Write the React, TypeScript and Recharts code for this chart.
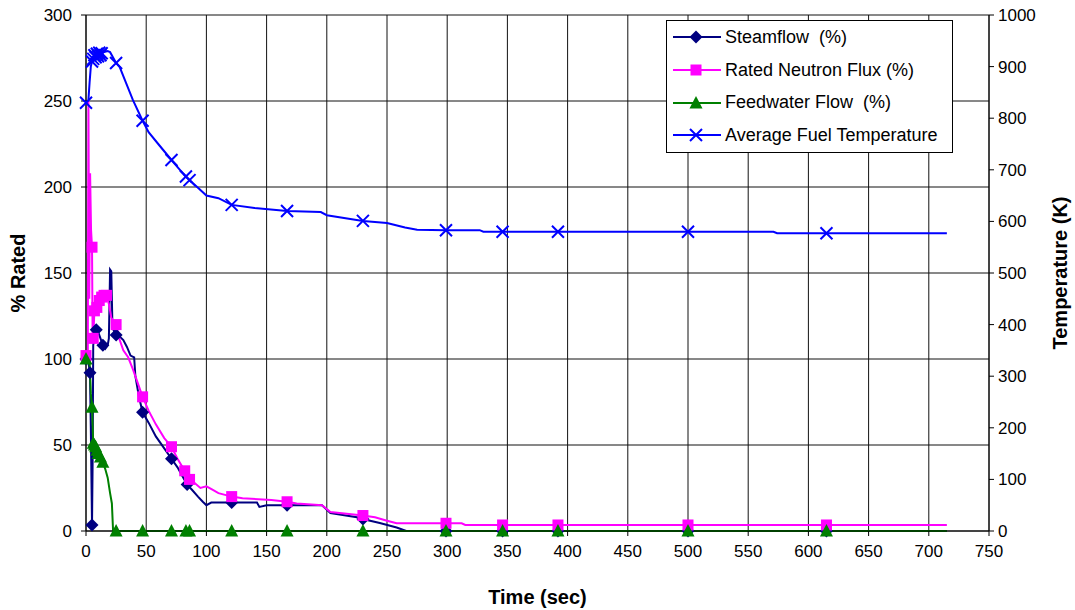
import React from 'react';
import { ComposedChart, Line, XAxis, YAxis, CartesianGrid, Legend } from 'recharts';

const COLORS = {
  steam: '#000080',
  flux: '#FF00FF',
  feed: '#008000',
  temp: '#0000FF',
};

// rows are [time (sec), value, marker?]
const steamflowRows = [
  [0, 100, 1], [2, 98], [3.3, 92, 1], [4, 60], [5, 3.5, 1], [5.5, 40], [6, 108], [7, 113],
  [8.5, 117, 1], [10, 116], [12, 112], [14, 108, 1], [16, 106], [18, 108], [19, 112],
  [20, 152], [21, 151], [22, 118], [25, 114, 1], [28, 113], [31, 111], [34, 107], [37, 102],
  [40, 101], [41, 90], [44, 78], [47, 69, 1], [52, 63], [58, 55], [65, 48], [71, 42, 1],
  [76, 37], [80, 32], [84, 27, 1], [88, 24], [93, 20], [97, 17], [100, 15], [104, 16.5],
  [121, 16.5, 1], [142, 16.5], [144, 14], [150, 15], [167, 15, 1], [196, 15], [203, 10.5],
  [225, 8], [230, 7, 1], [236, 6], [244, 4.6], [258, 2], [266, 0], [299, 0, 1], [346, 0, 1],
  [392, 0, 1], [500, 0, 1], [615, 0, 1], [715, 0],
];

const neutronFluxRows = [
  [0, 102, 1], [1.5, 104], [2, 250], [2.7, 135], [3.4, 208], [4.2, 175], [5, 165, 1],
  [5.5, 112], [6, 112, 1], [7, 128, 1], [8, 135], [9, 130, 1], [11, 134, 1], [13, 136, 1],
  [15, 137, 1], [17, 137, 1], [19, 132], [21, 124], [25, 120, 1], [28, 111], [31, 105],
  [35, 101], [39, 94], [42, 88], [47, 78, 1], [52, 70], [58, 62], [65, 54], [71, 49, 1],
  [76, 42], [82, 35, 1], [86, 30, 1], [90, 28], [95, 25], [100, 26], [105, 24], [110, 22],
  [121, 20, 1], [130, 19], [154, 18], [167, 17, 1], [175, 16], [196, 15], [203, 11],
  [230, 9, 1], [240, 8], [250, 6], [258, 4.5], [299, 4.5, 1], [312, 4.5], [315, 3.5],
  [346, 3.5, 1], [392, 3.5, 1], [500, 3.5, 1], [615, 3.5, 1], [715, 3.5],
];

const feedwaterRows = [
  [0, 100, 1], [2, 100], [3, 98], [4, 80], [5, 72, 1], [6, 51, 1], [7, 50, 1], [8, 49, 1],
  [9, 47, 1], [10, 45, 1], [12, 43, 1], [14, 40, 1], [16, 36], [18, 31], [20, 22],
  [21.5, 16], [22.5, 0], [25, 0, 1], [47, 0, 1], [71, 0, 1], [83, 0, 1], [86, 0, 1],
  [121, 0, 1], [167, 0, 1], [230, 0, 1], [299, 0, 1], [346, 0, 1], [392, 0, 1],
  [500, 0, 1], [615, 0, 1], [715, 0],
];

const fuelTempRows = [
  [0, 830, 1], [2, 835], [3, 870], [4, 900], [5, 910, 1], [6, 915, 1], [7, 922, 1],
  [8, 918, 1], [9, 925, 1], [10, 920, 1], [11, 927, 1], [12, 922, 1], [13, 926, 1],
  [15, 928], [18, 930], [20, 928], [25, 907, 1], [28, 899], [33, 870], [39, 835],
  [47, 795, 1], [52, 773], [60, 750], [71, 719, 1], [78, 700], [83, 687, 1], [86, 680, 1],
  [93, 665], [100, 650], [110, 645], [121, 632, 1], [140, 626], [167, 620, 1], [195, 618],
  [200, 612], [230, 601, 1], [250, 597], [265, 588], [275, 584], [299, 583, 1], [327, 583],
  [330, 580], [346, 580, 1], [392, 580, 1], [500, 580, 1], [571, 580], [574, 577],
  [615, 577, 1], [715, 577],
];

const timeTicks = [0, 50, 100, 150, 200, 250, 300, 350, 400, 450, 500, 550, 600, 650, 700, 750];
const ratedTicks = [0, 50, 100, 150, 200, 250, 300];
const tempTicks = [0, 100, 200, 300, 400, 500, 600, 700, 800, 900, 1000];

const toPoints = (rows: number[][]) => rows.map(([t, v, m]) => ({ t, v, m: !!m }));

const steamflow = toPoints(steamflowRows);
const neutronFlux = toPoints(neutronFluxRows);
const feedwater = toPoints(feedwaterRows);
const fuelTemp = toPoints(fuelTempRows);

type Kind = 'diamond' | 'square' | 'triangle' | 'cross';

const Marker = ({ kind, cx, cy, color }: { kind: Kind; cx: number; cy: number; color: string }) => {
  if (kind === 'diamond') {
    return <polygon points={`${cx},${cy - 6.5} ${cx + 6.5},${cy} ${cx},${cy + 6.5} ${cx - 6.5},${cy}`} fill={color} />;
  }
  if (kind === 'square') {
    return <rect x={cx - 5.5} y={cy - 5.5} width={11} height={11} fill={color} />;
  }
  if (kind === 'triangle') {
    return <polygon points={`${cx},${cy - 7} ${cx + 6.5},${cy + 5.5} ${cx - 6.5},${cy + 5.5}`} fill={color} />;
  }
  return (
    <path
      d={`M${cx - 6},${cy - 6}L${cx + 6},${cy + 6}M${cx - 6},${cy + 6}L${cx + 6},${cy - 6}`}
      stroke={color}
      strokeWidth={2}
      fill="none"
    />
  );
};

const markerDot = (kind: Kind, color: string) => (props: any) => {
  const { cx, cy, payload, index } = props;
  if (!payload || !payload.m || cx == null || cy == null) return <g key={`n-${index}`} />;
  return (
    <g key={`m-${index}`}>
      <Marker kind={kind} cx={cx} cy={cy} color={color} />
    </g>
  );
};

const legendItems: { label: string; kind: Kind; color: string }[] = [
  { label: 'Steamflow  (%)', kind: 'diamond', color: COLORS.steam },
  { label: 'Rated Neutron Flux (%)', kind: 'square', color: COLORS.flux },
  { label: 'Feedwater Flow  (%)', kind: 'triangle', color: COLORS.feed },
  { label: 'Average Fuel Temperature', kind: 'cross', color: COLORS.temp },
];

const renderLegend = () => (
  <div
    style={{
      width: 285,
      height: 131,
      border: '1px solid #000',
      background: '#fff',
      fontFamily: '"Liberation Sans", Arial, sans-serif',
      fontSize: 18,
      color: '#000',
    }}
  >
    {legendItems.map((item) => (
      <div key={item.label} style={{ display: 'flex', alignItems: 'center', height: 32.7 }}>
        <svg width={58} height={16} style={{ flex: 'none' }}>
          <line x1={6} y1={8} x2={54} y2={8} stroke={item.color} strokeWidth={2} />
          <Marker kind={item.kind} cx={29} cy={8} color={item.color} />
        </svg>
        <span style={{ whiteSpace: 'pre' }}>{item.label}</span>
      </div>
    ))}
  </div>
);

const axisTick = { fill: '#000', fontSize: 17 };
const titleStyle = { fontSize: 20, fontWeight: 'bold' as const, fill: '#000', textAnchor: 'middle' as const };

export default function App() {
  return (
    <div style={{ position: 'absolute', left: 0, top: 0, background: '#fff' }}>
      <ComposedChart
        width={1075}
        height={610}
        margin={{ top: 15, right: 0, bottom: 0, left: 0 }}
        style={{ fontFamily: '"Liberation Sans", Arial, sans-serif' }}
      >
        <CartesianGrid xAxisId="t" yAxisId="pct" stroke="#111" />
        <XAxis
          xAxisId="t"
          type="number"
          dataKey="t"
          domain={[0, 750]}
          ticks={timeTicks}
          height={79}
          tick={axisTick}
          tickSize={5}
          tickMargin={9}
          stroke="#000"
          label={{ value: 'Time (sec)', position: 'insideBottom', offset: 6, style: titleStyle }}
        />
        <YAxis
          yAxisId="pct"
          orientation="left"
          domain={[0, 300]}
          ticks={ratedTicks}
          width={86}
          tick={axisTick}
          tickSize={5}
          tickMargin={9}
          stroke="#000"
          label={{ value: '% Rated', angle: -90, position: 'insideLeft', offset: 18, style: titleStyle }}
        />
        <YAxis
          yAxisId="temp"
          orientation="right"
          domain={[0, 1000]}
          ticks={tempTicks}
          width={86}
          tick={axisTick}
          tickSize={5}
          tickMargin={4}
          stroke="#000"
          label={{ value: 'Temperature (K)', angle: -90, position: 'insideRight', offset: 15, style: titleStyle }}
        />
        <Legend
          layout="vertical"
          align="center"
          verticalAlign="middle"
          content={renderLegend}
          wrapperStyle={{ left: 666, top: 20, width: 287, height: 133 }}
        />
        <Line
          xAxisId="t"
          yAxisId="pct"
          data={steamflow}
          dataKey="v"
          name="Steamflow  (%)"
          stroke={COLORS.steam}
          strokeWidth={2}
          dot={markerDot('diamond', COLORS.steam)}
          activeDot={false}
          isAnimationActive={false}
        />
        <Line
          xAxisId="t"
          yAxisId="pct"
          data={neutronFlux}
          dataKey="v"
          name="Rated Neutron Flux (%)"
          stroke={COLORS.flux}
          strokeWidth={2}
          dot={markerDot('square', COLORS.flux)}
          activeDot={false}
          isAnimationActive={false}
        />
        <Line
          xAxisId="t"
          yAxisId="pct"
          data={feedwater}
          dataKey="v"
          name="Feedwater Flow  (%)"
          stroke={COLORS.feed}
          strokeWidth={2}
          dot={markerDot('triangle', COLORS.feed)}
          activeDot={false}
          isAnimationActive={false}
        />
        <Line
          xAxisId="t"
          yAxisId="temp"
          data={fuelTemp}
          dataKey="v"
          name="Average Fuel Temperature"
          stroke={COLORS.temp}
          strokeWidth={2}
          dot={markerDot('cross', COLORS.temp)}
          activeDot={false}
          isAnimationActive={false}
        />
      </ComposedChart>
    </div>
  );
}
